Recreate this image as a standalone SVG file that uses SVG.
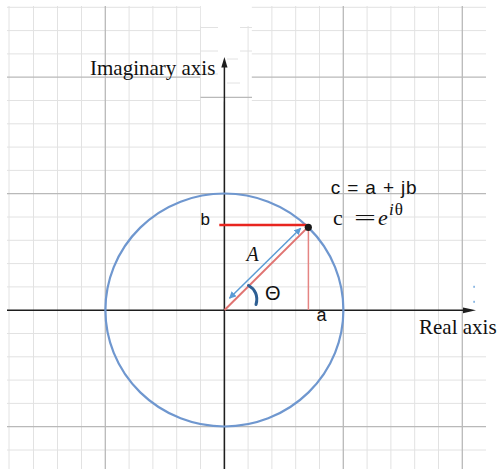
<svg xmlns="http://www.w3.org/2000/svg" width="497" height="469" viewBox="0 0 497 469">
<style>
.mn{stroke:#e2e2e2;stroke-width:1;fill:none}
.mj{stroke:#b9b9b9;stroke-width:1.3;fill:none}
.ax{stroke:#1e1e1e;stroke-width:1.5;fill:none}
.ser{font-family:"Liberation Serif","Times New Roman",serif;fill:#111}
.san{font-family:"Liberation Sans",Arial,sans-serif;fill:#111}
</style>
<defs>
<marker id="ah" viewBox="0 0 10 10" refX="9" refY="5" markerWidth="7" markerHeight="7" markerUnits="userSpaceOnUse" orient="auto-start-reverse">
<path d="M0,0 L10,5 L0,10 z" fill="#5b9bd5"/>
</marker>
</defs>
<rect width="497" height="469" fill="#fff"/>
<g id="grid">
<g class="mn">
<path d="M9,6V469M33.5,6V469M57.5,6V469M81.5,6V469M129.1,6V469M152.9,6V469M176.7,6V469M200.5,6V469M248.1,6V469M271.9,6V469M295.7,6V469M319.5,6V469M367.1,6V469M390.9,6V469M414.7,6V469M438.5,6V469"/>
<path d="M7,7.3H486M7,30.6H486M7,53.9H486M7,100.5H486M7,123.8H486M7,147.1H486M7,170.4H486M7,217H486M7,240.3H486M7,263.6H486M7,286.9H366M7,333.5H366M7,356.8H486M7,380.1H486M7,403.4H486M7,450H486"/>
</g>
<g class="mj">
<path d="M105.3,6V469M224.4,6V469M343.3,6V469M462.3,6V469"/>
<path d="M7,77.2H486M7,193.7H486M7,426.7H486"/>
</g>
<rect x="200.8" y="0" width="51" height="101.5" fill="#fff"/>
<g class="mn">
<path d="M200.5,26V101.5M248.1,26V101.5"/>
<path d="M200.5,27.5H218M240,27.5H252M200.5,51H218M240,51H252M227,59H238M200.5,74H218M227,83H240"/>
</g>
<path class="mj" d="M200.5,97.3H252"/>
</g>
<g id="axes">
<path class="ax" d="M224.4,66V469"/>
<path d="M224.4,57L221.3,67.5H227.5z" fill="#1e1e1e"/>
<path class="ax" d="M7,310.3H465"/>
<path d="M476,310.3L463,307.4V313.2z" fill="#1e1e1e"/>
<rect x="473.3" y="285.8" width="1.6" height="2" fill="#7fb0e0"/>
<rect x="473.3" y="300.8" width="1.6" height="2" fill="#7fb0e0"/>
<text class="ser" x="90" y="75" font-size="21">Imaginary axis</text>
<text class="ser" x="419" y="333.5" font-size="21">Real axis</text>
</g>
<g id="circle">
<ellipse cx="224.4" cy="310" rx="119" ry="116.5" fill="none" stroke="#6f97cf" stroke-width="2.2"/>
</g>
<g id="connectors">
<path d="M219.3,225H306.5" stroke="#e8251f" stroke-width="2.5" fill="none"/>
<path d="M224.6,310L306.5,228.6" stroke="#e07472" stroke-width="2" fill="none"/>
<path d="M308.4,229V310" stroke="#e58583" stroke-width="1.5" fill="none"/>
<path d="M229.5,298.2L300.7,228.3" stroke="#5b9bd5" stroke-width="1.5" fill="none" marker-start="url(#ah)" marker-end="url(#ah)"/>
<path d="M248.5,285.5C255,289 258.5,296 256,304.5" stroke="#2e5f93" stroke-width="3" fill="none" stroke-linecap="round"/>
</g>
<g id="point-c">
<circle cx="308.3" cy="227.3" r="3.6" fill="#1a1a1a"/>
</g>
<g id="labels">
<text class="san" x="200.5" y="225" font-size="17">b</text>
<text class="san" x="316.5" y="320.5" font-size="18">a</text>
<text class="ser" x="246.5" y="261" font-size="20" font-style="italic">A</text>
<text class="san" x="265" y="300" font-size="20">Θ</text>
<text class="san" x="330.7" y="194" font-size="19" textLength="86" lengthAdjust="spacing">c = a + jb</text>
<text class="ser" x="333" y="225" font-size="22">c</text>
<text class="ser" x="354" y="225" font-size="22" textLength="22" lengthAdjust="spacingAndGlyphs">=</text>
<text class="ser" x="378" y="225" font-size="22" font-style="italic">e</text>
<text class="ser" x="389" y="215" font-size="17"><tspan font-style="italic">i</tspan><tspan dx="1">θ</tspan></text>
</g>
</svg>
